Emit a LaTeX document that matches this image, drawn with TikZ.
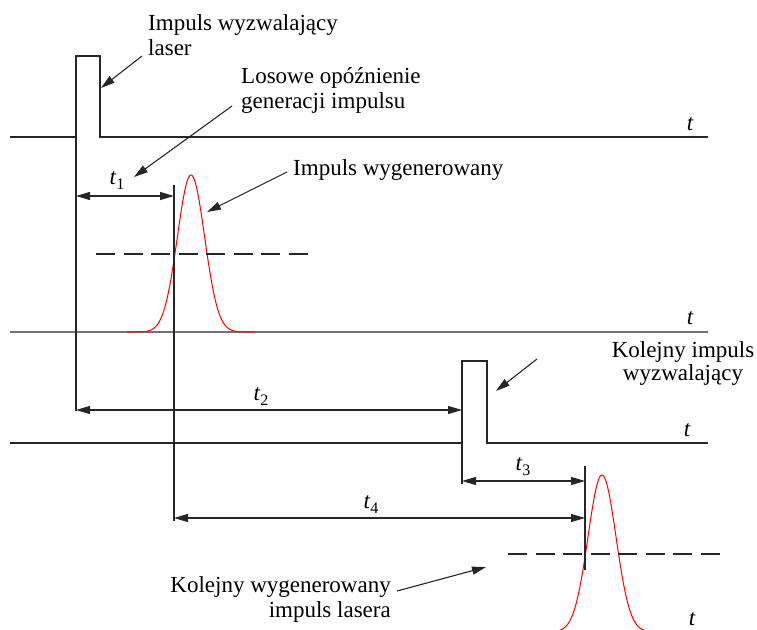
\documentclass[tikz,border=0pt]{standalone}
\usepackage{fontspec}
\setmainfont{Liberation Serif}
\usetikzlibrary{arrows.meta}
\newcommand\tsubscr[1]{\textit{t}\raisebox{-5pt}{\fontsize{16}{16}\selectfont #1}}
\begin{document}
\begin{tikzpicture}[x=1pt,y=-1pt,
  txt/.style={inner sep=0pt, font=\fontsize{23}{25}\selectfont},
  tvar/.style={inner sep=0pt, font=\fontsize{23}{25}\selectfont\itshape},
  pulseline/.style={line width=2pt, black!85, line join=miter},
  axisgray/.style={line width=1.8pt, black!55},
  guide/.style={line width=1.1pt, black!85},
  dim/.style={line width=1.1pt, black!85, {Triangle[length=14pt,width=8pt]}-{Triangle[length=14pt,width=8pt]}},
  ann/.style={line width=1.1pt, black!85, -{Triangle[length=14pt,width=8pt]}},
  thr/.style={line width=2pt, black!85, dash pattern=on 19pt off 8.5pt},
  gauss/.style={line width=1pt, red}]
\useasboundingbox (0,0) rectangle (757,629);

% axis 1 with trigger pulse
\coordinate (a1s) at (10,137);
\coordinate (p1a) at (76,137);
\coordinate (p1b) at (76,56);
\coordinate (p1c) at (100,56);
\coordinate (p1d) at (100,137);
\coordinate (a1e) at (708,137);
\draw[pulseline] (a1s) -- (p1a) -- (p1b) -- (p1c) -- (p1d) -- (a1e);

% axis 2
\coordinate (a2s) at (10,332);
\coordinate (a2e) at (708,332);
\draw[axisgray] (a2s) -- (a2e);

% axis 3 with second trigger pulse
\coordinate (a3s) at (10,443);
\coordinate (p2a) at (462,443);
\coordinate (p2b) at (462,361);
\coordinate (p2c) at (487,361);
\coordinate (p2d) at (487,443);
\coordinate (a3e) at (708,443);
\draw[pulseline] (a3s) -- (p2a) -- (p2b) -- (p2c) -- (p2d) -- (a3e);

% generated pulses
\draw[gauss] plot[domain=-64:64, samples=140] ({191+\x},{332-157*exp(-((\x)*(\x))/370)});
\begin{scope}
\clip (0,0) rectangle (757,629);
\draw[gauss] plot[domain=-48:48, samples=120] ({602+\x},{632-157*exp(-((\x)*(\x))/392)});
\end{scope}

% thresholds
\coordinate (d1s) at (96,254);
\coordinate (d1e) at (309,254);
\draw[thr] (d1s) -- (d1e);
\coordinate (d2s) at (508,554);
\coordinate (d2e) at (720,554);
\draw[thr] (d2s) -- (d2e);

% guide lines
\coordinate (g1e) at (76,411);
\draw[guide] (p1a) -- (g1e);
\coordinate (g2s) at (174,185);
\coordinate (g2e) at (174,521);
\draw[guide] (g2s) -- (g2e);
\coordinate (g3e) at (462,484);
\draw[guide] (p2a) -- (g3e);
\coordinate (g4s) at (585,466);
\coordinate (g4e) at (585,570);
\draw[guide] (g4s) -- (g4e);

% dimension arrows
\coordinate (t1l) at (76,196);  \coordinate (t1r) at (174,196);
\coordinate (t2l) at (76,410);  \coordinate (t2r) at (462,410);
\coordinate (t3l) at (462,481); \coordinate (t3r) at (585,481);
\coordinate (t4l) at (174,518); \coordinate (t4r) at (585,518);
\draw[dim] (t1l) -- (t1r);
\draw[dim] (t2l) -- (t2r);
\draw[dim] (t3l) -- (t3r);
\draw[dim] (t4l) -- (t4r);
\node[txt] (lt1) at (117,181) {\tsubscr{1}};
\node[txt] (lt2) at (261,397) {\tsubscr{2}};
\node[txt] (lt3) at (523,467) {\tsubscr{3}};
\node[txt] (lt4) at (371,505) {\tsubscr{4}};

% axis labels
\node[tvar] (ta1) at (690,124) {t};
\node[tvar] (ta2) at (690,318) {t};
\node[tvar] (ta3) at (687,430) {t};
\node[tvar] (ta4) at (692,619) {t};

% annotations (base anchor = baseline of last line)
\node[txt, align=left, anchor=base west] (lbl1) at (148,55) {Impuls wyzwalający\\laser};
\node[txt, align=left, anchor=base west] (lbl2) at (241,108) {Losowe opóźnienie\\generacji impulsu};
\node[txt, anchor=base west] (lbl3) at (293,175) {Impuls wygenerowany};
\node[inner sep=0pt, font=\fontsize{23}{23}\selectfont, align=center, anchor=base] (lbl4) at (683,380) {Kolejny impuls\\wyzwalający};
\node[txt, align=right, anchor=base east] (lbl5) at (391,617) {Kolejny wygenerowany\\impuls lasera};

\coordinate (n1s) at (142,56);  \coordinate (n1e) at (101,88);
\coordinate (n2s) at (232,106); \coordinate (n2e) at (134,177);
\coordinate (n3s) at (287,172); \coordinate (n3e) at (207,212);
\coordinate (n4s) at (537,359); \coordinate (n4e) at (496,391);
\coordinate (n5s) at (397,591); \coordinate (n5e) at (486,567);
\draw[ann] (n1s) -- (n1e);
\draw[ann] (n2s) -- (n2e);
\draw[ann] (n3s) -- (n3e);
\draw[ann] (n4s) -- (n4e);
\draw[ann] (n5s) -- (n5e);
\end{tikzpicture}
\end{document}
